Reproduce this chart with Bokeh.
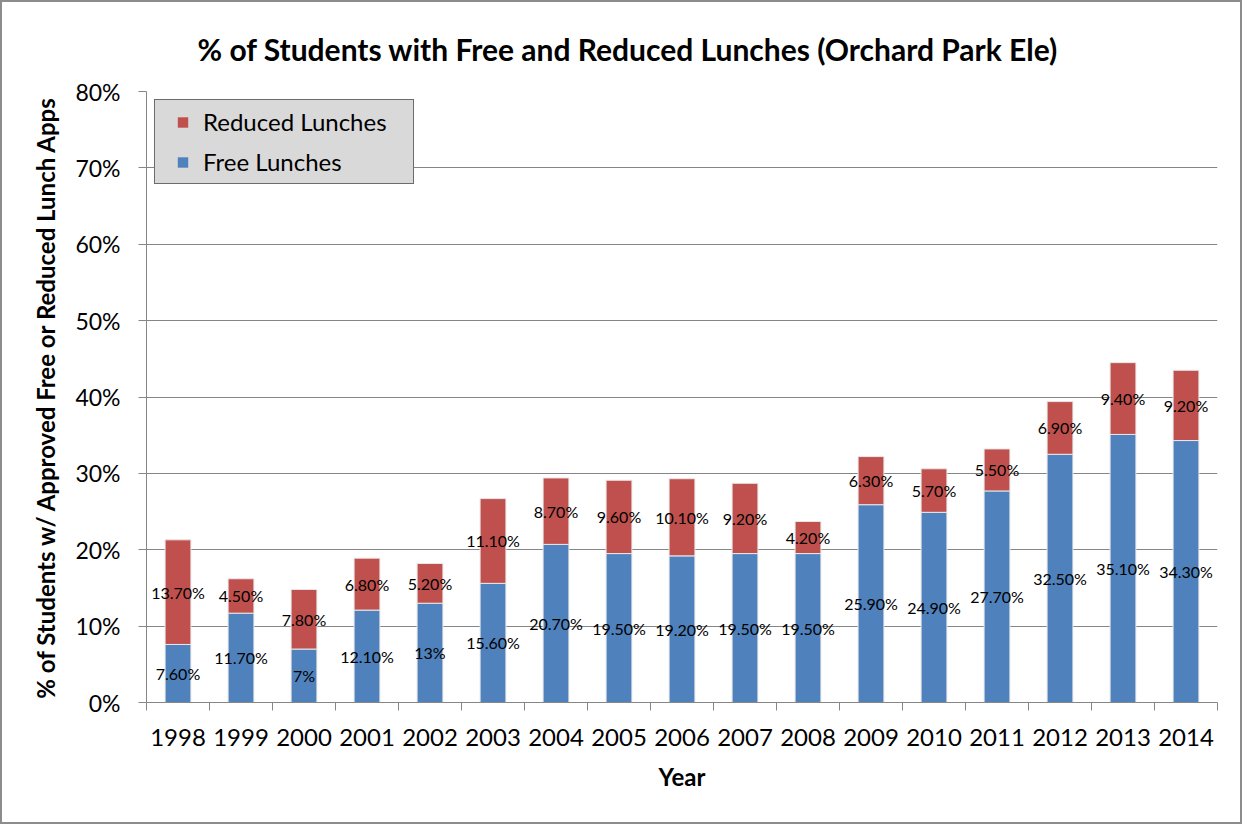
from bokeh.plotting import figure
from bokeh.models import (Range1d, FixedTicker, Legend, LegendItem,
                          ColumnDataSource, LabelSet)
from bokeh.core.properties import value
from bokeh.embed import file_html
from bokeh.resources import INLINE

years = ["1998", "1999", "2000", "2001", "2002", "2003", "2004", "2005", "2006",
         "2007", "2008", "2009", "2010", "2011", "2012", "2013", "2014"]
free = [7.6, 11.7, 7.0, 12.1, 13.0, 15.6, 20.7, 19.5, 19.2, 19.5, 19.5, 25.9, 24.9,
        27.7, 32.5, 35.1, 34.3]
reduced = [13.7, 4.5, 7.8, 6.8, 5.2, 11.1, 8.7, 9.6, 10.1, 9.2, 4.2, 6.3, 5.7, 5.5,
           6.9, 9.4, 9.2]
free_labels = ["7.60%", "11.70%", "7%", "12.10%", "13%", "15.60%", "20.70%", "19.50%",
               "19.20%", "19.50%", "19.50%", "25.90%", "24.90%", "27.70%", "32.50%",
               "35.10%", "34.30%"]
reduced_labels = ["13.70%", "4.50%", "7.80%", "6.80%", "5.20%", "11.10%", "8.70%",
                  "9.60%", "10.10%", "9.20%", "4.20%", "6.30%", "5.70%", "5.50%",
                  "6.90%", "9.40%", "9.20%"]
y_ticks = [0, 10, 20, 30, 40, 50, 60, 70, 80]

FONT = "Lato"
BLUE = "#4f81bd"
RED = "#c0504d"
GRID = "#868686"

n = len(years)
xs = list(range(1, n + 1))
src = ColumnDataSource(dict(
    x=xs,
    free=free,
    reduced=reduced,
    free_mid=[f / 2 for f in free],
    red_mid=[f + r / 2 for f, r in zip(free, reduced)],
    free_lab=free_labels,
    red_lab=reduced_labels,
))

p = figure(width=1242, height=824, output_backend="svg", toolbar_location=None,
           x_range=Range1d(0.5, n + 0.5), y_range=Range1d(0, 80),
           min_border_left=144, min_border_right=27, min_border_top=89,
           min_border_bottom=124)

p.title.text = "% of Students with Free and Reduced Lunches (Orchard Park Ele)"
p.title.text_font = FONT
p.title.text_font_size = "30px"
p.title.text_font_style = "bold"
p.title.text_color = "black"
p.title.align = "left"
p.title.offset = 51
p.title.standoff = 49

p.outline_line_color = None
p.background_fill_color = "white"
p.border_fill_color = "white"
p.styles = {"border": "2px solid #8c8c8c"}

renderers = p.vbar_stack(["free", "reduced"], x="x", width=0.41, source=src,
                         color=[BLUE, RED], line_color="#e8e8e8", line_width=1)

free_ls = LabelSet(x="x", y="free_mid", text="free_lab", source=src,
                   text_align="center", text_baseline="middle",
                   text_font_size="16px", text_font=value(FONT), text_color="black")
red_ls = LabelSet(x="x", y="red_mid", text="red_lab", source=src,
                  text_align="center", text_baseline="middle",
                  text_font_size="16px", text_font=value(FONT), text_color="black")
p.add_layout(free_ls)
p.add_layout(red_ls)

# Y axis
p.yaxis.ticker = FixedTicker(ticks=y_ticks, minor_ticks=[])
p.yaxis.major_label_overrides = {t: f"{t}%" for t in y_ticks}
p.yaxis.major_label_text_font = FONT
p.yaxis.major_label_text_font_size = "23px"
p.yaxis.major_label_text_color = "black"
p.yaxis.major_tick_out = 8
p.yaxis.major_tick_in = 0
p.yaxis.major_tick_line_color = GRID
p.yaxis.axis_line_color = GRID
p.yaxis.major_label_standoff = 18
p.yaxis.axis_label = "% of Students w/ Approved Free or Reduced Lunch Apps"
p.yaxis.axis_label_text_font = FONT
p.yaxis.axis_label_text_font_size = "24px"
p.yaxis.axis_label_text_font_style = "bold"
p.yaxis.axis_label_text_color = "black"
p.yaxis.axis_label_standoff = 12

# X axis
p.xaxis.ticker = FixedTicker(ticks=xs, minor_ticks=[i + 0.5 for i in range(0, n + 1)])
p.xaxis.major_label_overrides = {x: y for x, y in zip(xs, years)}
p.xaxis.major_label_text_font = FONT
p.xaxis.major_label_text_font_size = "24px"
p.xaxis.major_label_text_color = "black"
p.xaxis.major_tick_line_color = None
p.xaxis.major_tick_out = 0
p.xaxis.major_tick_in = 0
p.xaxis.minor_tick_line_color = GRID
p.xaxis.minor_tick_out = 8
p.xaxis.minor_tick_in = 0
p.xaxis.axis_line_color = GRID
p.xaxis.major_label_standoff = 18
p.xaxis.axis_label = "Year"
p.xaxis.axis_label_text_font = FONT
p.xaxis.axis_label_text_font_size = "24px"
p.xaxis.axis_label_text_font_style = "bold"
p.xaxis.axis_label_text_color = "black"
p.xaxis.axis_label_standoff = 13

p.xgrid.grid_line_color = None
p.ygrid.grid_line_color = GRID
p.ygrid.grid_line_width = 1

# legend swatches: square keys like the reference's legend (no points drawn)
nan = float("nan")
red_key = p.scatter(x=[nan], y=[nan], marker="square", size=15, fill_color=RED,
                    line_color=None)
blue_key = p.scatter(x=[nan], y=[nan], marker="square", size=15, fill_color=BLUE,
                     line_color=None)

legend = Legend(items=[LegendItem(label="Reduced Lunches", renderers=[red_key]),
                       LegendItem(label="Free Lunches", renderers=[blue_key])],
                location="top_left")
legend.margin = 8
legend.padding = 7
legend.spacing = 11
legend.background_fill_color = "#d9d9d9"
legend.background_fill_alpha = 1
legend.border_line_color = "black"
legend.border_line_width = 1
legend.label_text_font = FONT
legend.label_text_font_size = "24px"
legend.label_text_color = "black"
legend.glyph_width = 41
legend.glyph_height = 26
legend.label_standoff = 0
legend.label_height = 26
legend.label_width = 203
p.add_layout(legend)

open("out.html", "w").write(file_html(p, INLINE))
